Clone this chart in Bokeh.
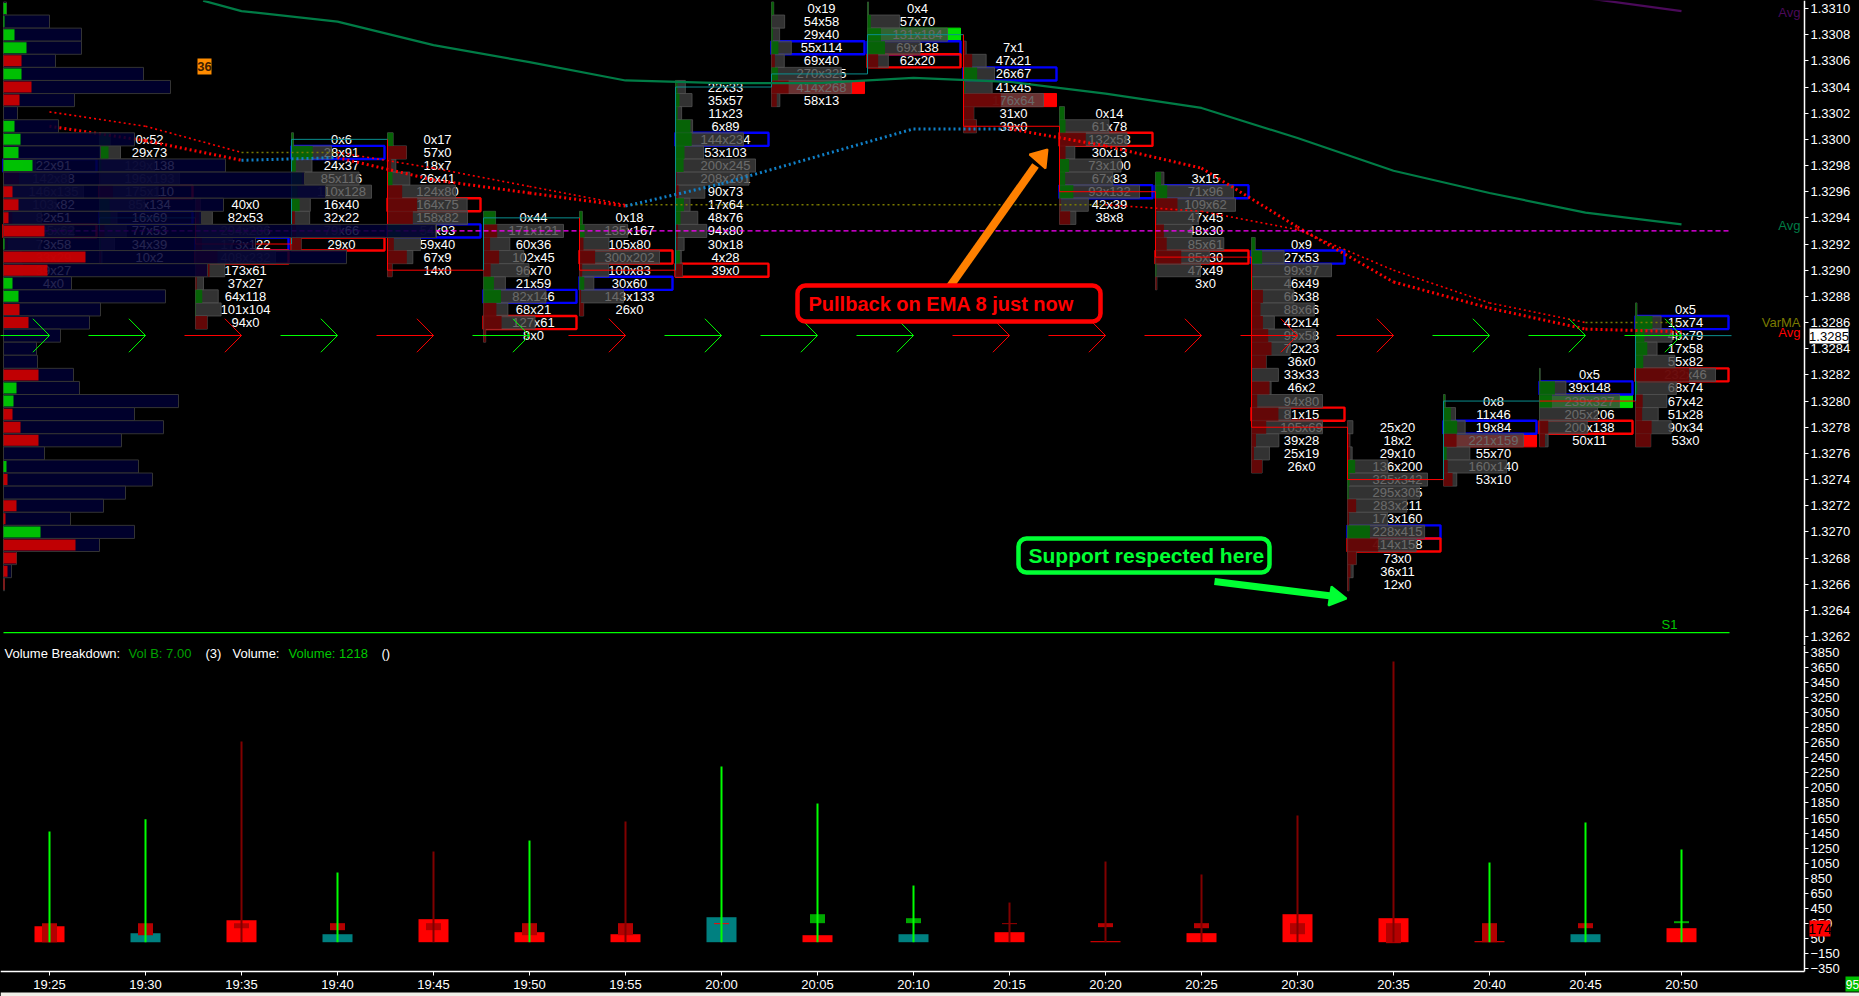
from bokeh.embed import file_html
from bokeh.resources import INLINE
from bokeh.plotting import figure
from bokeh.layouts import column
from bokeh.models import (ColumnDataSource, FixedTicker, LinearAxis, NumeralTickFormatter,
                          Range1d, GlobalInlineStyleSheet)
from bokeh.core.properties import value

# ---------- data ----------
times = ["19:25", "19:30", "19:35", "19:40", "19:45", "19:50", "19:55", "20:00", "20:05", "20:10",
         "20:15", "20:20", "20:25", "20:30", "20:35", "20:40", "20:45", "20:50"]

bar_top_price = [1.3298, 1.3300, 1.3295, 1.3300, 1.3300, 1.3294, 1.3294, 1.3304, 1.3310, 1.3310,
                 1.3307, 1.3302, 1.3297, 1.3292, 1.3278, 1.3280, 1.3282, 1.3287]
fp_rows = [
    ["22x91", "142x88", "146x135", "103x82", "82x51", "185x62", "73x58", "33x29", "39x27", "4x0"],
    ["0x52", "29x73", "129x138", "196x193", "175x110", "85x134", "16x69", "77x53", "34x39", "10x2"],
    ["40x0", "82x53", "294x286", "173x122", "408x232", "173x61", "37x27", "64x118", "101x104", "94x0"],
    ["0x6", "28x91", "24x37", "85x116", "110x128", "16x40", "32x22", "79x66", "29x0"],
    ["0x17", "57x0", "18x7", "26x41", "124x80", "164x75", "158x82", "54x93", "59x40", "67x9", "14x0"],
    ["0x44", "171x121", "60x36", "102x45", "96x70", "21x59", "82x146", "68x21", "127x61", "8x0"],
    ["0x18", "135x167", "105x80", "300x202", "100x83", "30x60", "143x133", "26x0"],
    ["22x33", "35x57", "11x23", "6x89", "144x234", "53x103", "200x245", "208x201", "90x73", "17x64",
     "48x76", "94x80", "30x18", "4x28", "39x0"],
    ["0x19", "54x58", "29x40", "55x114", "69x40", "270x325", "414x268", "58x13"],
    ["0x4", "57x70", "131x184", "69x138", "62x20"],
    ["7x1", "47x21", "26x67", "41x45", "176x64", "31x0", "39x0"],
    ["0x14", "61x78", "132x58", "30x13", "73x100", "67x83", "93x132", "42x39", "38x8"],
    ["3x15", "71x96", "109x62", "47x45", "48x30", "85x61", "85x30", "47x49", "3x0"],
    ["0x9", "27x53", "99x97", "46x49", "66x38", "88x66", "42x14", "99x58", "72x23", "36x0", "33x33",
     "46x2", "94x80", "81x15", "105x69", "39x28", "25x19", "26x0"],
    ["25x20", "18x2", "29x10", "136x200", "325x342", "295x305", "283x211", "173x160", "228x415",
     "414x158", "73x0", "36x11", "12x0"],
    ["0x8", "11x46", "19x84", "221x159", "55x70", "160x140", "53x10"],
    ["0x5", "39x148", "239x327", "205x206", "200x138", "50x11"],
    ["0x5", "15x74", "48x79", "17x58", "55x82", "232x46", "68x74", "67x42", "51x28", "90x34", "53x0"],
]
blue_box_price = [1.3298, 1.3294, 1.3292, 1.3299, 1.3293, 1.3288, 1.3289, 1.3300, 1.3307, 1.3307,
                  1.3305, 1.3296, 1.3296, 1.3291, 1.3270, 1.3278, 1.3281, 1.3286]
red_box_bar = [0, 1, 2, 3, 4, 5, 6, 7, 9, 11, 12, 13, 14, 16, 17]
red_box_price = [1.3293, 1.3296, 1.3291, 1.3292, 1.3295, 1.3286, 1.3291, 1.3290, 1.3306, 1.3300,
                 1.3291, 1.3279, 1.3269, 1.3278, 1.3282]
red_fill_bar = [8, 10, 15]
red_fill_price = [1.3304, 1.3303, 1.3277]
green_fill_bar = [9, 16]
green_fill_price = [1.3308, 1.3280]

close_price = [1.3293, 1.3294, 1.3292, 1.3300, 1.3290, 1.3294, 1.3290, 1.3304, 1.3305, 1.3308,
               1.3301, 1.3296, 1.3291, 1.3278, 1.3274, 1.3280, 1.3280, 1.3285]
close_up = [0, 1, 0, 1, 0, 1, 0, 1, 1, 1, 0, 0, 0, 0, 0, 1, 0, 1]

profile_total = [3, 46, 78, 78, 52, 140, 167, 71, 14, 55, 131, 97, 222, 301, 322, 220, 198, 432, 252,
                 343, 204, 68, 162, 97, 86, 57, 33, 34, 70, 76, 175, 131, 160, 118, 41, 135, 149, 122,
                 100, 67, 131, 96, 13, 8, 1]
profile_delta = [3, 1, 11, 23, -18, 18, -28, -16, 0, 11, 17, 15, 29, 0, -9, -15, -5, -41, 1,
                 -82, -44, 9, 15, -16, -25, 0, 0, 0, -35, 13, 10, -9, -17, -35, 0, 3, -4, 0,
                 -13, -2, 37, -72, -13, -4, -1]

avg_green_x = [1.6, 2, 3, 4, 5, 6, 7, 8, 9, 10, 11, 12, 13, 14, 15, 16, 17]
avg_green = [1.33106, 1.33098, 1.33090, 1.33072, 1.33059, 1.33045, 1.33043, 1.33043, 1.33047, 1.33044,
             1.33035, 1.33024, 1.33001, 1.32976, 1.32959, 1.32944, 1.32935]
avg_purple_x = [16, 17]
avg_purple = [1.33108, 1.33098]
ema8 = [1.33010, 1.32999, 1.32984, 1.32986, 1.32969, 1.32959, 1.32949, 1.32966, 1.32987, 1.33008,
        1.33008, 1.32995, 1.32978, 1.32933, 1.32891, 1.32871, 1.32855, 1.32853]
varma = [1.33021, 1.33010, 1.32990, 1.32990, 1.32978, 1.32964, 1.32950, 1.32950, 1.32950, 1.32950,
         1.32950, 1.32950, 1.32945, 1.32931, 1.32900, 1.32875, 1.32860, 1.32860]
flow_up = [1, 1, 0, 1, 0, 1, 0, 1, 1, 1, 0, 0, 0, 0, 0, 1, 1, 1]
pivot_magenta = 1.3293
pivot_s1 = 1.32623

spike = [1471, 1633, 2667, 926, 1205, 1351, 1604, 2335, 1843, 753, 527, 1072, 900, 1684, 3730, 1059, 1591, 1232]
spike_up = [1, 1, 0, 1, 0, 1, 0, 1, 1, 1, 0, 0, 0, 0, 0, 1, 1, 1]
vol_wide = [213, 120, 292, 106, 306, 133, 106, 332, 93, 106, 133, 13, 120, 372, 319, 13, 106, 186]
vol_wide_teal = [0, 1, 0, 1, 0, 0, 0, 1, 0, 1, 0, 0, 0, 0, 0, 0, 1, 0]
vol_mid_top = [253, 253, 253, 253, 253, 253, 253, 253, 372, 319, 253, 253, 253, 253, 253, 253, 253, 279]
vol_mid_bottom = [0, 93, 186, 160, 160, 93, 93, 240, 253, 253, 240, 200, 186, 106, -13, 0, 186, 253]
vol_mid_color = ["#b40000"] * 7 + ["#ff0000", "#00a800", "#00a800", "#a00000"] + ["#b40000"] * 6 + ["#00a800"]

price_ticks = [1.3262 + 0.0002 * k for k in range(25)]
volume_ticks = [3850 - 200 * k for k in range(22)]

# ---------- geometry of the window ----------
W, H1, H2 = 1859, 645, 351
AXIS_X = 1804
AXIS_Y = 971
F = "Liberation Sans"
FS = "13px"


def px(x):
    return (x - 49) / 96


def py(y):
    return 1.3310 - (y - 8) / 130850


def vy(y):
    return (941.7 - y) / 0.07525


n_bars = len(times)
idx = list(range(n_bars))
x_range = Range1d(px(0), px(W))


def base_fig(height, y_range):
    f = figure(width=W, height=height, x_range=x_range, y_range=y_range, output_backend="svg",
               toolbar_location=None, x_axis_location=None, y_axis_location=None,
               background_fill_color="black", border_fill_color="black",
               min_border_left=0, min_border_top=0, min_border_bottom=0, min_border_right=0)
    f.grid.visible = False
    f.outline_line_color = None
    return f


def style_axis(a):
    a.axis_line_color = "white"
    a.axis_line_width = 1.5
    a.major_tick_line_color = "white"
    a.major_tick_in = 0
    a.major_tick_out = 4
    a.minor_tick_line_color = None
    a.major_label_text_color = "white"
    a.major_label_text_font = F
    a.major_label_text_font_size = FS
    a.major_label_standoff = 2


def plate(f, l, r, t, b, s, fill, tc, fs=FS):
    f.quad(left=[l], right=[r], top=[t], bottom=[b], fill_color=fill, line_color=None, level="overlay")
    f.text(x=[(l + r) / 2], y=[(t + b) / 2], text=[s], text_color=tc, text_font=value(F), text_font_size=fs,
           text_align="center", text_baseline="middle", level="overlay")


# ---------- price panel ----------
p = base_fig(H1, Range1d(py(H1), py(0)))
ax = LinearAxis(ticker=FixedTicker(ticks=price_ticks), formatter=NumeralTickFormatter(format="0.0000"),
                fixed_location=px(AXIS_X))
style_axis(ax)
p.add_layout(ax, "right")

TICK = 0.0001
L_OFF = 46 / 96
BOX_W = 93 / 96
BAR_W = 80 / 96
T_OFF = 4 / 96


def box(bars, prices):
    return dict(left=[b - L_OFF for b in bars], right=[b - L_OFF + BOX_W for b in bars],
                top=[q + TICK / 2 for q in prices], bottom=[q - TICK / 2 for q in prices])


p.quad(source=ColumnDataSource(box(red_fill_bar, red_fill_price)), left="left", right="right", top="top",
       bottom="bottom", fill_color="#ff0000", line_color="#ff0000")
p.quad(source=ColumnDataSource(box(green_fill_bar, green_fill_price)), left="left", right="right", top="top",
       bottom="bottom", fill_color="#00e000", line_color="#00e000")
p.quad(source=ColumnDataSource(box(idx, blue_box_price)), left="left", right="right", top="top",
       bottom="bottom", fill_color=None, line_color="#0000ff", line_width=2.4)
p.quad(source=ColumnDataSource(box(red_box_bar, red_box_price)), left="left", right="right", top="top",
       bottom="bottom", fill_color=None, line_color="#ff0000", line_width=2.4)

t_x, t_y, t_s, g_l, g_r, g_t, g_b, d_r, d_c = [], [], [], [], [], [], [], [], []
for i, rows in enumerate(fp_rows):
    parsed = [tuple(int(v) for v in r.split("x")) for r in rows]
    mx = max(a + b for a, b in parsed)
    for k, (r, (a, b)) in enumerate(zip(rows, parsed)):
        q = bar_top_price[i] - k * TICK
        t_x.append(i + T_OFF)
        t_y.append(q)
        t_s.append(r)
        g_l.append(i - L_OFF)
        g_r.append(i - L_OFF + (a + b) / mx * BAR_W)
        g_t.append(q + TICK / 2)
        g_b.append(q - TICK / 2)
        d_r.append(i - L_OFF + abs(a - b) / mx * BAR_W)
        d_c.append("#006c00" if b > a else "#6c0000")

p.text(x=t_x, y=t_y, text=t_s, text_color="white", text_font=value(F), text_font_size=FS,
       text_align="center", text_baseline="middle")
p.quad(left=g_l, right=g_r, top=g_t, bottom=g_b, fill_color="#404040", fill_alpha=0.78,
       line_color="#505050", line_alpha=0.8)
p.quad(left=g_l, right=d_r, top=g_t, bottom=g_b, fill_color=d_c, fill_alpha=0.85, line_color=None)

# close-to-close connectors
for i in range(1, n_bars):
    c = "#0a8f8f" if close_up[i] else "#ff0000"
    lx = i - L_OFF
    p.line([lx, lx, lx + 1], [close_price[i - 1], close_price[i], close_price[i]], line_color=c, line_width=1)

# moving averages and levels
p.line(avg_green_x, avg_green, line_color="#007c46", line_width=2.2)
p.line(avg_purple_x, avg_purple, line_color="#4b0a5a", line_width=2.2)
for i in range(n_bars - 1):
    c = "#7a7a00" if varma[i + 1] == varma[i] else "#ff0000"
    p.line([i, i + 1], [varma[i], varma[i + 1]], line_color=c, line_width=1.6, line_dash="2 3")
    c = "#1080c8" if ema8[i + 1] >= ema8[i] else "#ff0000"
    p.line([i, i + 1], [ema8[i], ema8[i + 1]], line_color=c, line_width=3, line_dash="2 3")
p.line([px(3), px(1729)], [pivot_magenta, pivot_magenta], line_color="#ff00ff", line_width=1.2, line_dash="5 3")

# volume profile, above the footprints
pl = -L_OFF
prof_y = [1.3310 - k * TICK for k in range(len(profile_total))]
p.quad(left=pl, right=[pl + v / 96 for v in profile_total], top=[q + TICK / 2 for q in prof_y],
       bottom=[q - TICK / 2 for q in prof_y], fill_color="#000033", fill_alpha=0.86, line_color="#333333")
p.quad(left=pl, right=[pl + abs(v) / 96 for v in profile_delta], top=[q + TICK * 0.42 for q in prof_y],
       bottom=[q - TICK * 0.42 for q in prof_y], fill_color=["#00d000" if v > 0 else "#d00000" for v in profile_delta],
       fill_alpha=0.92, line_color=None)

p.line([px(3), px(1729)], [pivot_s1, pivot_s1], line_color="#00ff00", line_width=1.2)

# flow arrows
arrow_y = py(335)
for i in range(n_bars):
    c = "#00ff00" if flow_up[i] else "#ff0000"
    p.line([i - 57 / 96, i], [arrow_y, arrow_y], line_color=c, line_width=1)
    p.line([i - 16.6 / 96, i, i - 16.6 / 96], [arrow_y + 0.000128, arrow_y, arrow_y - 0.000128], line_color=c, line_width=1)

# right hand series labels
lab_x = [px(1800)] * 4
lab_y = [py(12), py(225), py(322), py(332)]
lab_s = ["Avg", "Avg", "VarMA", "Avg"]
lab_c = ["#4b0a5a", "#007c46", "#7a7a00", "#ff0000"]
p.text(x=lab_x, y=lab_y, text=lab_s, text_color=lab_c, text_font=value(F), text_font_size=FS,
       text_align="right", text_baseline="middle")
p.text(x=[px(1669)], y=[py(624)], text=["S1"], text_color="#00c800", text_font=value(F), text_font_size=FS,
       text_align="center", text_baseline="middle")

# "36" marker
p.quad(left=px(197), right=px(211), top=py(58), bottom=py(74), fill_color="#ff8c00", line_color=None)
p.text(x=[px(204)], y=[py(66)], text=["36"], text_color="#402000", text_font=value(F), text_font_size=FS,
       text_font_style="bold", text_align="center", text_baseline="middle")

# orange arrow + callout
OR = "#ff8000"
p.line([px(948), px(1035)], [py(288), py(165)], line_color=OR, line_width=8)
p.patch([px(1047), px(1029), px(1045)], [py(149), py(154), py(168)], fill_color=OR, line_color=OR, line_width=2)
p.quad(left=px(797), right=px(1100), top=py(285), bottom=py(321), fill_color="black", line_color="#ff0000",
       line_width=4.5, border_radius=8)
p.text(x=[px(808)], y=[py(303)], text=["Pullback on EMA 8 just now"], text_color="#ff0000",
       text_font=value(F), text_font_size="20px", text_font_style="bold", text_align="left", text_baseline="middle")

# green arrow + callout
GR = "#00ff33"
p.line([px(1214), px(1335)], [py(581), py(596)], line_color=GR, line_width=7)
p.patch([px(1346), px(1331), px(1328)], [py(598), py(586), py(605)], fill_color=GR, line_color=GR, line_width=2)
p.quad(left=px(1018), right=px(1269), top=py(538), bottom=py(572), fill_color="black", line_color=GR,
       line_width=4.5, border_radius=8)
p.text(x=[px(1028)], y=[py(555)], text=["Support respected here"], text_color=GR,
       text_font=value(F), text_font_size="21px", text_font_style="bold", text_align="left", text_baseline="middle")

plate(p, px(1809), px(1848), py(328), py(343), "1.3285", "white", "black")

# ---------- volume panel ----------
v = base_fig(H2, Range1d(vy(H1 + H2), vy(H1)))
ay = LinearAxis(ticker=FixedTicker(ticks=volume_ticks), fixed_location=px(AXIS_X), bounds=(vy(AXIS_Y), vy(H1)))
style_axis(ay)
v.add_layout(ay, "right")
ab = LinearAxis(ticker=FixedTicker(ticks=idx), major_label_overrides={i: t for i, t in zip(idx, times)},
                fixed_location=vy(AXIS_Y), bounds=(px(0), px(AXIS_X)))
style_axis(ab)
ab.major_label_standoff = 1
v.add_layout(ab, "below")

v.vbar(x=idx, width=30 / 96, top=vol_wide, bottom=0, line_color=None,
       fill_color=["#008080" if t else "#ff0000" for t in vol_wide_teal])
v.vbar(x=idx, width=15 / 96, top=vol_mid_top, bottom=vol_mid_bottom, line_color=None, fill_color=vol_mid_color)
v.segment(x0=idx, x1=idx, y0=[0] * n_bars, y1=spike, line_width=2,
          line_color=["#00ff00" if u else "#800000" for u in spike_up])

leg_x = [px(4), px(128), px(205), px(232), px(288), px(381)]
leg_s = ["Volume Breakdown:", "Vol B: 7.00", "(3)", "Volume:", "Volume: 1218", "()"]
leg_c = ["white", "#00a000", "white", "white", "#00c800", "white"]
v.text(x=leg_x, y=[vy(653)] * 6, text=leg_s, text_color=leg_c, text_font=value(F), text_font_size=FS,
       text_align="left", text_baseline="middle")

plate(v, px(1809), px(1830), vy(920), vy(936), "174", "#ff0000", "black", "14px")
plate(v, px(1845), px(1859), vy(976), vy(991), "95", "#00c000", "white", "12px")
# light status strip under the chart window
v.quad(left=[px(0)], right=[px(W)], top=[vy(992)], bottom=[vy(996)], fill_color="#f0f0e8", line_color=None)

page = column(p, v, stylesheets=[GlobalInlineStyleSheet(
    css="html,body{margin:0;padding:0;background:#000;overflow:hidden}")])
open("out.html", "w").write(file_html(page, INLINE))
